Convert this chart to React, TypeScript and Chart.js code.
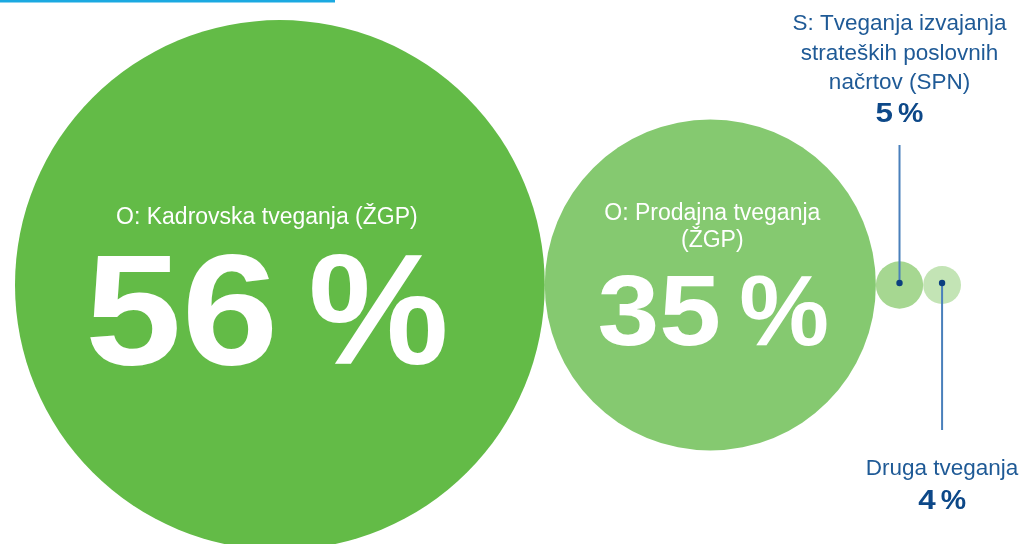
import React, { useEffect, useRef } from "react";
import { Chart, registerables } from "chart.js";

Chart.register(...registerables);

// ---- data ----
const categories = [
  "O: Kadrovska tveganja (ŽGP)",
  "O: Prodajna tveganja (ŽGP)",
  "S: Tveganja izvajanja strateških poslovnih načrtov (SPN)",
  "Druga tveganja",
];
const shares = [56, 35, 5, 4];
const labelLines = [
  ["O: Kadrovska tveganja (ŽGP)"],
  ["O: Prodajna tveganja", "(ŽGP)"],
  ["S: Tveganja izvajanja", "strateških poslovnih", "načrtov (SPN)"],
  ["Druga tveganja"],
];
const valueLabels = ["56", "35", "5", "4"];
const colors = ["#63BB47", "#85C970", "#A6D791", "#C3E4B5"];

// ---- layout / style ----
const W = 1026;
const H = 544;
const PX_PER_PCT = 4.73;
const START_X = 15;
const ROW_Y = 285;
const FONT = "'Liberation Sans', Arial, Helvetica, sans-serif";
const TEXT_BLUE = "#1f5a96";
const BOLD_BLUE = "#0d4888";
const LEADER = "#4a80bb";
const DOT = "#0b3f7f";
const DIGIT_STRETCH = 1.1;

function buildPoints() {
  const pts: { x: number; y: number; r: number }[] = [];
  let edge = START_X;
  shares.forEach((v) => {
    const r = v * PX_PER_PCT;
    pts.push({ x: edge + r, y: ROW_Y, r });
    edge += 2 * r;
  });
  return pts;
}

function drawValue(
  ctx: CanvasRenderingContext2D,
  num: string,
  cx: number,
  baseline: number,
  size: number,
  color: string,
  gapEm: number
) {
  ctx.save();
  ctx.font = `bold ${size}px ${FONT}`;
  ctx.fillStyle = color;
  ctx.textAlign = "left";
  ctx.textBaseline = "alphabetic";
  const wn = ctx.measureText(num).width * DIGIT_STRETCH;
  const wp = ctx.measureText("%").width;
  const gap = gapEm * size;
  const total = wn + gap + wp;
  const x0 = cx - total / 2;
  ctx.save();
  ctx.translate(x0, baseline);
  ctx.scale(DIGIT_STRETCH, 1);
  ctx.fillText(num, 0, 0);
  ctx.restore();
  ctx.fillText("%", x0 + wn + gap, baseline);
  ctx.restore();
}

function drawLines(
  ctx: CanvasRenderingContext2D,
  lines: string[],
  cx: number,
  firstBaseline: number,
  lh: number,
  size: number,
  color: string
) {
  ctx.save();
  ctx.font = `${size}px ${FONT}`;
  ctx.fillStyle = color;
  ctx.textAlign = "center";
  ctx.textBaseline = "alphabetic";
  lines.forEach((l, i) => ctx.fillText(l, cx, firstBaseline + i * lh));
  ctx.restore();
}

const labelPlugin = {
  id: "bubbleLabels",
  beforeDraw(chart: any) {
    const ctx = chart.ctx as CanvasRenderingContext2D;
    ctx.save();
    ctx.fillStyle = "#1BA9E1";
    ctx.fillRect(0, 0, 335, 2.5);
    ctx.restore();
  },
  afterDatasetsDraw(chart: any) {
    const ctx = chart.ctx as CanvasRenderingContext2D;
    const els = chart.getDatasetMeta(0).data;
    // big circle
    const a = els[0];
    drawLines(ctx, labelLines[0], a.x - 13, a.y - 61, 27, 23, "#ffffff");
    drawValue(ctx, valueLabels[0], a.x - 13, a.y + 79, 158, "#ffffff", 0.19);
    // second circle
    const b = els[1];
    drawLines(ctx, labelLines[1], b.x + 2, b.y - 65, 27, 23, "#ffffff");
    drawValue(ctx, valueLabels[1], b.x + 3, b.y + 60, 101, "#ffffff", 0.18);

    // leaders
    const c = els[2];
    const d = els[3];
    ctx.save();
    ctx.strokeStyle = LEADER;
    ctx.lineWidth = 2;
    ctx.beginPath();
    ctx.moveTo(c.x, 145);
    ctx.lineTo(c.x, c.y - 2);
    ctx.moveTo(d.x, d.y - 2);
    ctx.lineTo(d.x, 430);
    ctx.stroke();
    ctx.fillStyle = DOT;
    [c, d].forEach((e: any) => {
      ctx.beginPath();
      ctx.arc(e.x, e.y - 2, 3.2, 0, Math.PI * 2);
      ctx.fill();
    });
    ctx.restore();

    drawLines(ctx, labelLines[2], c.x, 30, 29.5, 22.5, TEXT_BLUE);
    drawValue(ctx, valueLabels[2], c.x, 122, 28.5, BOLD_BLUE, 0.18);
    drawLines(ctx, labelLines[3], d.x, 475, 29.5, 22.5, TEXT_BLUE);
    drawValue(ctx, valueLabels[3], d.x, 509, 28.5, BOLD_BLUE, 0.18);
  },
};

export default function App() {
  const ref = useRef<HTMLCanvasElement | null>(null);
  useEffect(() => {
    document.body.style.margin = "0";
    const canvas = ref.current!;
    const points = buildPoints();
    const chart = new Chart(canvas, {
      type: "bubble",
      data: {
        labels: categories,
        datasets: [
          {
            label: "Tveganja",
            data: points,
            backgroundColor: colors,
            borderWidth: 0,
            hoverBorderWidth: 0,
            clip: false as any,
          },
        ],
      },
      options: {
        responsive: false,
        animation: false,
        devicePixelRatio: 1,
        layout: { padding: 0, autoPadding: false },
        events: [],
        scales: {
          x: { type: "linear", min: 0, max: W, display: false, offset: false },
          y: { type: "linear", min: 0, max: H, reverse: true, display: false, offset: false },
        },
        plugins: {
          legend: { display: false },
          tooltip: { enabled: false },
        },
      },
      plugins: [labelPlugin],
    });
    return () => chart.destroy();
  }, []);
  return (
    <div style={{ position: "absolute", left: 0, top: 0, width: W, height: H, background: "#ffffff" }}>
      <canvas ref={ref} width={W} height={H} style={{ display: "block" }} />
    </div>
  );
}
